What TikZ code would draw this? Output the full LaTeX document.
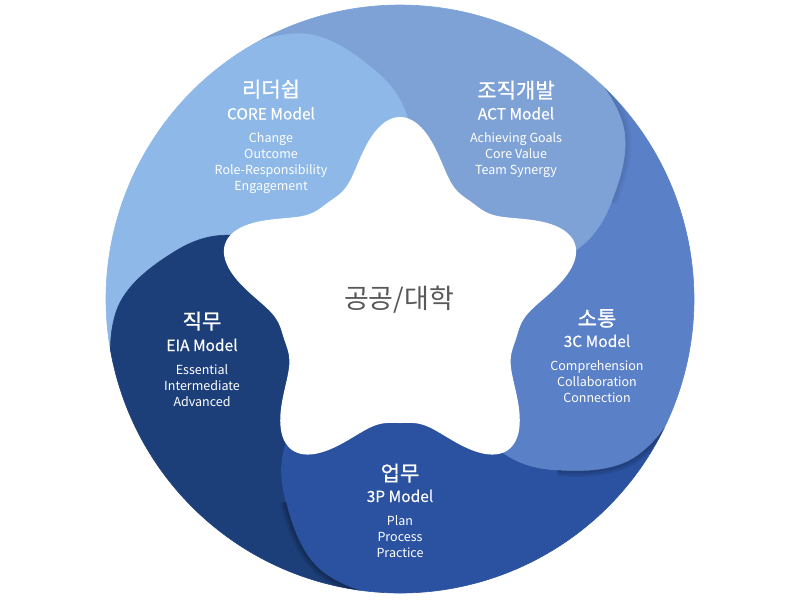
\documentclass[tikz,border=0pt]{standalone}
\usepackage{fontspec}
\setmainfont{Noto Sans CJK KR}
\newfontfamily\krmed[FakeBold=0.9]{Noto Sans CJK KR}
\newfontfamily\krmod[FakeBold=0.3]{Noto Sans CJK KR}
\definecolor{cLead}{HTML}{8DB8E8}
\definecolor{cOrg}{HTML}{7FA2D6}
\definecolor{cCom}{HTML}{5A80C8}
\definecolor{cWork}{HTML}{2A52A0}
\definecolor{cJob}{HTML}{1C3F7A}
\definecolor{cCenter}{HTML}{595959}
\tikzset{
  ttl/.style={text=white, anchor=base, inner sep=0pt, font=\krmed\fontsize{21}{25}\selectfont},
  mdl/.style={text=white, anchor=base, inner sep=0pt, font=\krmod\fontsize{15.5}{18}\selectfont},
  itm/.style={text=white, anchor=base, inner sep=0pt, font=\fontsize{12.5}{15}\selectfont},
}
% boundary of the tip at angle \Ta, from the centre out to the circle
\newcommand\bfwd{(0,0) -- ({\Ta-4.76}:120.4)
      .. controls ({\Ta-5.87}:175.9) and ({\Ta-1.4}:205.06) .. ({\Ta+6.67}:232.57)
      .. controls ({\Ta+10.37}:250.08) and ({\Ta+15.15}:275.57) .. ({\Ta+20.61}:284.18)
      .. controls ({\Ta+23.38}:289.8) and ({\Ta+25.78}:292.06) .. ({\Ta+28}:294)}
% region between the boundaries of tips \Ta and \Ua
\newcommand\regpath{\bfwd
      arc[start angle=\Ta+28, end angle=\Ua+28, radius=294]
      .. controls ({\Ua+25.78}:292.06) and ({\Ua+23.38}:289.8) .. ({\Ua+20.61}:284.18)
      .. controls ({\Ua+15.15}:275.57) and ({\Ua+10.37}:250.08) .. ({\Ua+6.67}:232.57)
      .. controls ({\Ua-1.4}:205.06) and ({\Ua-5.87}:175.9) .. ({\Ua-4.76}:120.4)
      -- cycle}
\begin{document}
\begin{tikzpicture}[x=1pt,y=-1pt]
\useasboundingbox (0,0) rectangle (800,600);
\begin{scope}[shift={(400,299)}, yscale=-1]
  \foreach \T/\col in {90/cLead,162/cJob,234/cWork,306/cCom,18/cOrg}{
    \pgfmathsetmacro\Ta{\T}
    \pgfmathsetmacro\Ua{\T+72}
    \filldraw[fill=\col, draw=\col, line width=0.6pt] \regpath;
  }
  % soft shadows cast across the lower boundaries
  \foreach \T/\op in {234/0.10,306/0.08,18/0.03}{
    \pgfmathsetmacro\Ta{\T-72}
    \pgfmathsetmacro\Ua{\T}
    \begin{scope}
      \clip \regpath;
      \pgfmathsetmacro\Ta{\T}
      \foreach \w in {4,8,12}{
        \draw[black, opacity=\op, line width=\w pt]
          ({\Ta+6.67}:232.57)
          .. controls ({\Ta+10.37}:250.08) and ({\Ta+15.15}:275.57) .. ({\Ta+20.61}:284.18)
          .. controls ({\Ta+23.38}:289.8) and ({\Ta+25.78}:292.06) .. ({\Ta+28}:294);
      }
    \end{scope}
  }
\end{scope}
\begin{scope}[shift={(400,301)}, yscale=-1]
  \fill[white] plot[domain=0:360, samples=361]
    (\x:{122+62*((1.0001+cos(5*(\x-90)))/2)^1.7}) -- cycle;
\end{scope}
% centre
\node[text=cCenter, inner sep=0pt, font=\fontsize{27}{32}\selectfont] (center) at (399,300) {공공/대학};
% 리더쉽
\node[ttl] (t1) at (271,97) {리더쉽};
\node[mdl] (m1) at (271,119.5) {CORE Model};
\foreach \t [count=\i] in {Change,Outcome,Role-Responsibility,Engagement}
  \node[itm] (a\i) at (271,{142.7+15.9*(\i-1)}) {\t};
% 조직개발
\node[ttl] (t2) at (516,98) {조직개발};
\node[mdl] (m2) at (516,119.5) {ACT Model};
\foreach \t [count=\i] in {Achieving Goals,Core Value,Team Synergy}
  \node[itm] (b\i) at (516,{142.7+15.9*(\i-1)}) {\t};
% 직무
\node[ttl] (t3) at (202,329) {직무};
\node[mdl] (m3) at (202,351) {EIA Model};
\foreach \t [count=\i] in {Essential,Intermediate,Advanced}
  \node[itm] (c\i) at (202,{374.5+15.9*(\i-1)}) {\t};
% 소통
\node[ttl] (t4) at (597,326) {소통};
\node[mdl] (m4) at (597,347) {3C Model};
\foreach \t [count=\i] in {Comprehension,Collaboration,Connection}
  \node[itm] (d\i) at (597,{370.5+15.9*(\i-1)}) {\t};
% 업무
\node[ttl] (t5) at (400,481) {업무};
\node[mdl] (m5) at (400,502) {3P Model};
\foreach \t [count=\i] in {Plan,Process,Practice}
  \node[itm] (e\i) at (400,{525.5+15.9*(\i-1)}) {\t};
\end{tikzpicture}
\end{document}
